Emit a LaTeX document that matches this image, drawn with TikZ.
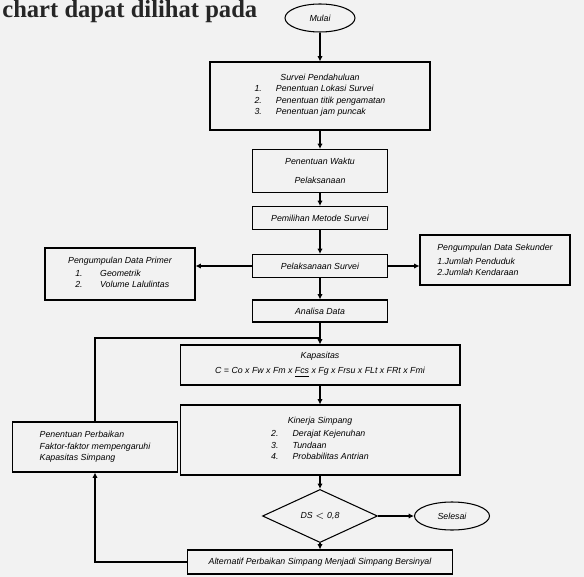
\documentclass[tikz,border=0pt]{standalone}
\usepackage{fontspec}
\setmainfont{Liberation Sans}
\newfontfamily\pagefont{Liberation Serif}
\usetikzlibrary{shapes.geometric,positioning,arrows.meta}

\tikzset{
  box/.style={draw, semithick, rectangle, font=\fontsize{5}{6.5}\selectfont\itshape, align=center, inner sep=2pt},
  term/.style={draw, semithick, ellipse, font=\fontsize{5}{6}\selectfont\itshape, inner sep=1pt},
  choice/.style={draw, semithick, diamond, font=\fontsize{5}{6}\selectfont\itshape, inner sep=1pt},
  flow/.style={-{Latex[length=3pt,width=3pt]}, semithick}
}

\begin{document}
\begin{tikzpicture}[x=0.02cm, y=-0.02cm]
    \useasboundingbox[fill=black!5] (0,0) rectangle (584,577);
    \node[anchor=base west, inner sep=0pt, font=\pagefont\bfseries\fontsize{14}{16}\selectfont, black!85] (pagetext) at (2,18) {chart dapat dilihat pada};

    % Main column
    \node[term, minimum width=1.4cm, minimum height=0.56cm] (mulai) at (320,18) {Mulai};
    \node[box, minimum width=4.4cm, minimum height=1.36cm] (survei) at (320,96) {Survei Pendahuluan\\[1pt]
        \begin{tabular}{@{}l@{\hspace{8pt}}l@{}}
        1. & Penentuan Lokasi Survei\\
        2. & Penentuan titik pengamatan\\
        3. & Penentuan jam puncak
        \end{tabular}};
    \node[box, minimum width=2.7cm, minimum height=0.86cm] (waktu) at (320,171) {Penentuan Waktu\\[4pt]Pelaksanaan};
    \node[box, minimum width=2.7cm, minimum height=0.46cm] (metode) at (320,218) {Pemilihan Metode Survei};
    \node[box, minimum width=2.7cm, minimum height=0.46cm] (pelaksanaan) at (320,266) {Pelaksanaan Survei};
    \node[box, minimum width=2.7cm, minimum height=0.44cm] (analisa) at (320,311) {Analisa Data};
    \node[box, minimum width=5.6cm, minimum height=0.8cm] (kapasitas) at (320,365) {Kapasitas\\[2pt]
        C = Co x Fw x Fm x \underline{Fcs} x Fg x Frsu x FLt x FRt x Fmi};
    \node[box, minimum width=5.6cm, minimum height=1.4cm] (kinerja) at (320,440) {Kinerja Simpang\\[1pt]
        \begin{tabular}{@{}l@{\hspace{8pt}}l@{}}
        2. & Derajat Kejenuhan\\
        3. & Tundaan\\
        4. & Probabilitas Antrian
        \end{tabular}};
    \node[choice, minimum width=2.3cm, minimum height=0.66cm] (ds) at (320,516) {DS $<$ 0,8};
    \node[term, minimum width=1.5cm, minimum height=0.56cm] (selesai) at (452,516) {Selesai};
    \node[box, minimum width=5.3cm, minimum height=0.48cm] (alternatif) at (320,562) {Alternatif Perbaikan Simpang Menjadi Simpang Bersinyal};

    % Side boxes
    \node[box, minimum width=3cm, minimum height=1.04cm, align=left] (primer) at (120,274) {Pengumpulan Data Primer\\[1pt]
        \begin{tabular}{@{\hspace{4pt}}l@{\hspace{10pt}}l@{}}
        1. & Geometrik\\
        2. & Volume Lalulintas
        \end{tabular}};
    \node[box, minimum width=3cm, minimum height=1.0cm, align=left] (sekunder) at (495,260) {Pengumpulan Data Sekunder\\[1pt]
        1.Jumlah Penduduk\\
        2.Jumlah Kendaraan};
    \node[box, minimum width=3.3cm, minimum height=1.0cm, align=left] (perbaikan) at (95,447) {Penentuan Perbaikan\\
        Faktor-faktor mempengaruhi\\
        Kapasitas Simpang};

    \coordinate (join) at (320,338);

    % Connectors
    \draw[flow] (mulai) -- (survei);
    \draw[flow] (survei) -- (waktu);
    \draw[flow] (waktu) -- (metode);
    \draw[flow] (metode) -- (pelaksanaan);
    \draw[flow] (pelaksanaan.west) -- (pelaksanaan.west -| primer.east);
    \draw[flow] (pelaksanaan.east) -- (pelaksanaan.east -| sekunder.west);
    \draw[flow] (pelaksanaan) -- (analisa);
    \draw[flow] (analisa.south) -- (kapasitas.north);
    \draw[semithick] (perbaikan.north) |- (join);
    \draw[flow] (kapasitas) -- (kinerja);
    \draw[flow] (kinerja.south) -- (ds.north);
    \draw[flow] (ds.east) -- (selesai.west);
    \draw[flow] (ds.south) -- (alternatif.north);
    \draw[flow] (alternatif.west) -| (perbaikan.south);
\end{tikzpicture}
\end{document}
